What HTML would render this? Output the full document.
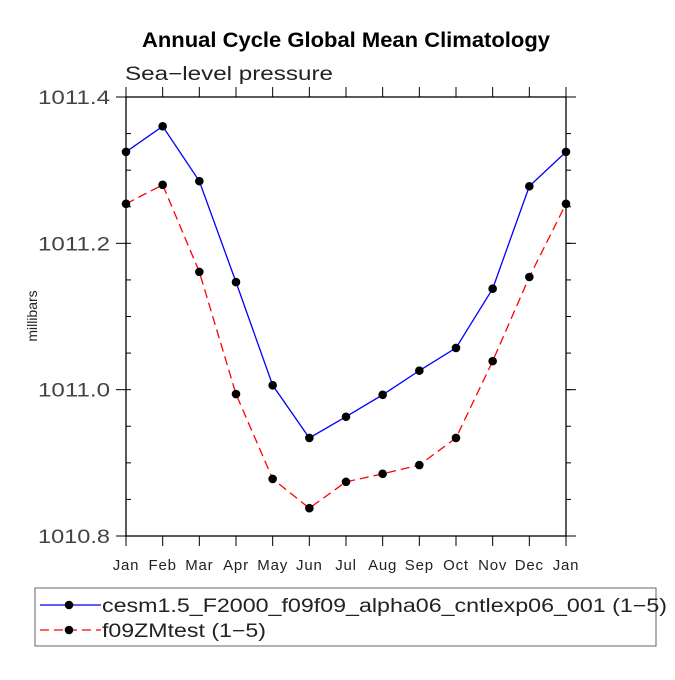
<!DOCTYPE html>
<html><head><meta charset="utf-8"><style>
body{margin:0;background:#fff}
svg text{font-family:"Liberation Sans",sans-serif}
</style></head><body>
<svg width="675" height="675" viewBox="0 0 675 675">
<text x="142" y="47" textLength="408" lengthAdjust="spacingAndGlyphs" font-size="21" font-weight="bold">Annual Cycle Global Mean Climatology</text>
<text x="125" y="80" font-size="19" fill="#222" textLength="208" lengthAdjust="spacingAndGlyphs">Sea−level pressure</text>
<text x="37" y="316" font-size="14" fill="#222" text-anchor="middle" transform="rotate(-90 37 316)">millibars</text>
<g id="axes"></g>
<g id="series"></g>
<rect x="35" y="588" width="621" height="58" fill="none" stroke="#666"/>
<g id="legend"></g>
</svg>
<script>
const months=["Jan","Feb","Mar","Apr","May","Jun","Jul","Aug","Sep","Oct","Nov","Dec","Jan"];
const blueVals=[1011.325,1011.360,1011.285,1011.147,1011.006,1010.934,1010.963,1010.993,1011.026,1011.057,1011.138,1011.278,1011.325];
const redVals=[1011.254,1011.280,1011.161,1010.994,1010.878,1010.838,1010.874,1010.885,1010.897,1010.934,1011.039,1011.154,1011.254];
const yTicks=["1010.8","1011.0","1011.2","1011.4"];
const NS="http://www.w3.org/2000/svg";
const L=126,R=566,T=97,B=536,ymin=1010.8,ymax=1011.4;
const xs=i=>L+(R-L)*i/(months.length-1);
const ys=v=>B-(v-ymin)/(ymax-ymin)*(B-T);
function mk(t,a,p){const e=document.createElementNS(NS,t);for(const k in a)e.setAttribute(k,a[k]);p.appendChild(e);return e;}
const ax=document.getElementById('axes');
const fr=mk('rect',{x:L,y:T,width:R-L,height:B-T,fill:'none',stroke:'#000','stroke-width':1.3},ax);


months.forEach((m,i)=>{const x=xs(i);
mk('line',{x1:x,y1:B,x2:x,y2:B+10,stroke:'#000'},ax);
mk('line',{x1:x,y1:T,x2:x,y2:T-10,stroke:'#000'},ax);
const t=mk('text',{x:x,y:B+34,'text-anchor':'middle','font-size':15,'letter-spacing':0.8,fill:'#222'},ax);t.textContent=m;

});
yTicks.forEach(s=>{const v=parseFloat(s),y=ys(v);
mk('line',{x1:L-10,y1:y,x2:L,y2:y,stroke:'#000'},ax);
mk('line',{x1:R,y1:y,x2:R+10,y2:y,stroke:'#000'},ax);
const t=mk('text',{x:38,y:y+7,'font-size':19,fill:'#444',textLength:72,lengthAdjust:'spacingAndGlyphs'},ax);t.textContent=s;

});
for(let v=ymin+0.05;v<ymax-0.01;v+=0.05){const y=ys(v);
mk('line',{x1:L,y1:y,x2:L+5,y2:y,stroke:'#000'},ax);
mk('line',{x1:R,y1:y,x2:R+5,y2:y,stroke:'#000'},ax);}
const sg=document.getElementById('series');
function series(vals,col,dash,name){
const pl=mk('polyline',{points:vals.map((v,i)=>xs(i)+','+ys(v)).join(' '),fill:'none',stroke:col,'stroke-width':1.3,'stroke-dasharray':dash},sg);


vals.forEach((v,i)=>{const c=mk('circle',{cx:xs(i),cy:ys(v),r:4.3,fill:'#000'},sg);

});}
series(blueVals,'#00f','none','cesm-series');
series(redVals,'#f00','9,5','f09zm-series');
const lg=document.getElementById('legend');
[["#00f","none","cesm1.5_F2000_f09f09_alpha06_cntlexp06_001 (1−5)",605,565],["#f00","9,5","f09ZMtest (1−5)",630,164]].forEach(([c,d,txt,y,w],k)=>{
const g=mk('g',{},lg);


mk('line',{x1:40,y1:y,x2:101,y2:y,stroke:c,'stroke-width':1.3,'stroke-dasharray':d},g);
mk('circle',{cx:69,cy:y,r:4.3,fill:'#000'},g);
const t=mk('text',{x:102,y:y+7,'font-size':19,fill:'#222',textLength:w,lengthAdjust:'spacingAndGlyphs'},g);t.textContent=txt;});
</script>
</body></html>
